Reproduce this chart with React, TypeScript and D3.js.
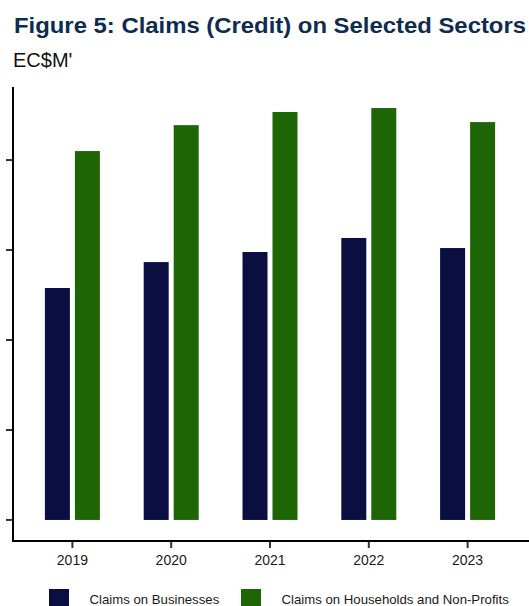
import React from "react";
import * as d3 from "d3";

// Claims (credit) by sector, EC$M
const years = ["2019", "2020", "2021", "2022", "2023"];
const seriesNames = ["Claims on Businesses", "Claims on Households and Non-Profits"];
const businesses = [1289, 1433, 1489, 1567, 1511];
const households = [2050, 2194, 2267, 2289, 2211];
const yTicks = [0, 500, 1000, 1500, 2000];

const W = 529;
const H = 606;
const colors = ["#0a0e40", "#1e6605"];
const font = "'Liberation Sans', Arial, sans-serif";

export default function App() {
  const axisLeft = 13;
  const axisBottom = 541;
  const plotTop = 87;

  const x = d3.scaleBand<string>().domain(years).range([23, 517]).padding(0);
  const inner = d3
    .scaleBand<number>()
    .domain([0, 1])
    .range([-27.5, 27.5])
    .paddingInner(1 / 6)
    .paddingOuter(0);
  const y = d3.scaleLinear().domain([-117, 2406]).range([axisBottom, plotTop]);

  const series = [businesses, households];

  return (
    <svg
      width={W}
      height={H}
      style={{ position: "absolute", left: 0, top: 0, background: "#fff" }}
      fontFamily={font}
    >
      <text
        x={14}
        y={33.3}
        fontSize={21.5}
        fontWeight="bold"
        fill="#0d2c4f"
        textLength={512}
        lengthAdjust="spacingAndGlyphs"
      >
        Figure 5: Claims (Credit) on Selected Sectors
      </text>
      <text x={13} y={67} fontSize={20} fill="#111">
        EC$M'
      </text>

      {/* bars */}
      {years.map((yr, i) => {
        const cx = (x(yr) as number) + x.bandwidth() / 2;
        return series.map((vals, s) => (
          <rect
            key={yr + s}
            x={cx + (inner(s) as number)}
            y={y(vals[i])}
            width={inner.bandwidth()}
            height={y(0) - y(vals[i])}
            fill={colors[s]}
          />
        ));
      })}

      {/* y ticks (unlabelled) */}
      {yTicks.map((t) => (
        <line
          key={t}
          x1={6}
          x2={axisLeft}
          y1={y(t)}
          y2={y(t)}
          stroke="#333"
          strokeWidth={2}
        />
      ))}

      {/* x ticks and labels */}
      {years.map((yr) => {
        const cx = (x(yr) as number) + x.bandwidth() / 2;
        return (
          <g key={yr}>
            <line x1={cx} x2={cx} y1={axisBottom} y2={548} stroke="#333" strokeWidth={2} />
            <text x={cx} y={565} fontSize={14} textAnchor="middle" fill="#1a1a1a">
              {yr}
            </text>
          </g>
        );
      })}

      {/* axis lines */}
      <line x1={axisLeft} x2={axisLeft} y1={plotTop} y2={axisBottom + 1} stroke="#000" strokeWidth={2} />
      <line x1={axisLeft} x2={W} y1={axisBottom} y2={axisBottom} stroke="#000" strokeWidth={2} />

      {/* legend */}
      {seriesNames.map((name, s) => {
        const lx = s === 0 ? 49 : 241;
        return (
          <g key={name}>
            <rect x={lx} y={589} width={20} height={20} fill={colors[s]} />
            <text x={lx + 40.5} y={604} fontSize={13.2} fill="#1a1a1a">
              {name}
            </text>
          </g>
        );
      })}
    </svg>
  );
}
